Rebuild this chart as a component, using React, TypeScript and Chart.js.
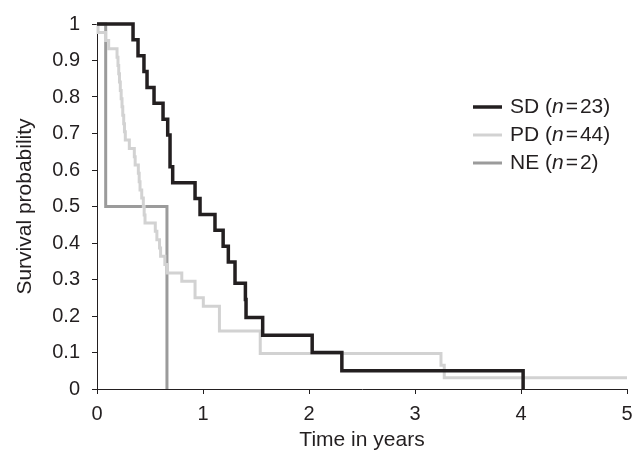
import React, { useEffect, useRef } from "react";
import { Chart, registerables } from "chart.js";

Chart.register(...registerables);

const FONT = "'Liberation Sans', Arial, Helvetica, sans-serif";
const INK = "#231f20";

// Kaplan–Meier step points (time in years, survival after the step)
const sdTimes = [0, 0.34, 0.387, 0.443, 0.472, 0.538, 0.623, 0.667, 0.689, 0.714, 0.925, 0.972, 1.113, 1.19, 1.239, 1.302, 1.4, 1.406, 1.563, 2.03, 2.31, 4.02];
const sdValues = [1, 0.957, 0.913, 0.87, 0.826, 0.783, 0.739, 0.696, 0.609, 0.565, 0.522, 0.478, 0.435, 0.391, 0.348, 0.29, 0.245, 0.196, 0.147, 0.1, 0.05, 0];

const pdTimes = [0, 0.01, 0.08, 0.11, 0.189, 0.198, 0.205, 0.212, 0.22, 0.228, 0.236, 0.243, 0.252, 0.259, 0.267, 0.305, 0.352, 0.36, 0.39, 0.398, 0.406, 0.422, 0.437, 0.445, 0.453, 0.55, 0.565, 0.59, 0.6, 0.64, 0.66, 0.8, 0.925, 1.003, 1.155, 1.54, 3.245, 3.276, 5.0];
const pdValues = [1, 0.977, 0.955, 0.932, 0.909, 0.886, 0.864, 0.841, 0.818, 0.795, 0.773, 0.75, 0.727, 0.705, 0.682, 0.659, 0.636, 0.614, 0.591, 0.568, 0.545, 0.523, 0.5, 0.477, 0.455, 0.432, 0.409, 0.386, 0.364, 0.341, 0.318, 0.295, 0.25, 0.227, 0.159, 0.097, 0.065, 0.031, 0.031];

const neTimes = [0, 0.082, 0.66];
const neValues = [1, 0.5, 0];

const seriesNames = ["SD", "PD", "NE"];
const seriesN = ["23", "44", "2"];
const seriesColors = [INK, "#d2d2d2", "#9b9b9b"];
const seriesWidths = [3.5, 3, 3];

const xTicks = [0, 1, 2, 3, 4, 5];
const yTicks = [0, 0.1, 0.2, 0.3, 0.4, 0.5, 0.6, 0.7, 0.8, 0.9, 1];

const toPoints = (t: number[], v: number[]) => t.map((x, i) => ({ x, y: v[i] }));

const legendPlugin = {
  id: "kmLegend",
  afterDraw(chart: any) {
    const ctx = chart.ctx as CanvasRenderingContext2D;
    const x0 = 473;
    const x1 = 502;
    const tx = 510;
    const top = 107;
    const gap = 28;
    ctx.save();
    seriesNames.forEach((name, i) => {
      const y = top + i * gap;
      ctx.strokeStyle = seriesColors[i];
      ctx.lineWidth = seriesWidths[i];
      ctx.lineCap = "butt";
      ctx.beginPath();
      ctx.moveTo(x0, y);
      ctx.lineTo(x1, y);
      ctx.stroke();
      ctx.fillStyle = INK;
      ctx.textBaseline = "middle";
      ctx.textAlign = "left";
      let x = tx;
      ctx.font = `21px ${FONT}`;
      const a = `${name} (`;
      ctx.fillText(a, x, y);
      x += ctx.measureText(a).width;
      ctx.font = `italic 21px ${FONT}`;
      ctx.fillText("n", x, y);
      x += ctx.measureText("n").width + 2;
      ctx.font = `21px ${FONT}`;
      ctx.fillText("=", x, y);
      x += ctx.measureText("=").width + 2;
      ctx.fillText(`${seriesN[i]})`, x, y);
    });
    ctx.restore();
  },
};

export default function App() {
  const ref = useRef<HTMLCanvasElement | null>(null);
  useEffect(() => {
    if (!ref.current) return;
    const grid = {
      drawOnChartArea: false,
      drawTicks: true,
      tickLength: 5,
      color: INK,
      lineWidth: 1,
    };
    const border = { display: true, color: INK, width: 1 };
    const chart = new Chart(ref.current, {
      type: "line",
      data: {
        datasets: [
          { label: "SD", data: toPoints(sdTimes, sdValues), borderColor: seriesColors[0], borderWidth: seriesWidths[0], stepped: true, pointRadius: 0, fill: false, clip: false } as any,
          { label: "PD", data: toPoints(pdTimes, pdValues), borderColor: seriesColors[1], borderWidth: seriesWidths[1], stepped: true, pointRadius: 0, fill: false, clip: false } as any,
          { label: "NE", data: toPoints(neTimes, neValues), borderColor: seriesColors[2], borderWidth: seriesWidths[2], stepped: true, pointRadius: 0, fill: false, clip: false } as any,
        ],
      },
      options: {
        animation: false,
        responsive: false,
        maintainAspectRatio: false,
        devicePixelRatio: 1,
        layout: { padding: { left: 0, top: 21, right: 17, bottom: 0 } },
        plugins: { legend: { display: false }, tooltip: { enabled: false } },
        elements: { point: { radius: 0 }, line: { tension: 0, borderJoinStyle: "miter", borderCapStyle: "butt" } },
        scales: {
          x: {
            type: "linear",
            min: 0,
            max: 5,
            afterBuildTicks: (s: any) => {
              s.ticks = xTicks.map((v) => ({ value: v }));
            },
            ticks: { font: { family: FONT, size: 20 }, color: INK, padding: 8, maxRotation: 0, minRotation: 0, autoSkip: false, callback: (v: any) => String(v) },
            grid,
            border,
            title: { display: true, text: "Time in years", color: INK, font: { family: FONT, size: 21, lineHeight: 1.1 }, padding: { top: 0, bottom: 0 } },
            afterFit: (s: any) => {
              s.height = 63;
            },
          },
          y: {
            type: "linear",
            min: 0,
            max: 1,
            afterBuildTicks: (s: any) => {
              s.ticks = yTicks.map((v) => ({ value: v }));
            },
            ticks: { font: { family: FONT, size: 20 }, color: INK, padding: 12, autoSkip: false, callback: (v: any) => String(Number(Number(v).toFixed(1))) },
            grid,
            border,
            title: { display: true, text: "Survival probability", color: INK, font: { family: FONT, size: 21, lineHeight: 1.1 }, padding: { top: 14, bottom: 0 } },
            afterFit: (s: any) => {
              s.width = 97;
            },
          },
        },
      } as any,
      plugins: [legendPlugin],
    });
    return () => chart.destroy();
  }, []);
  return (
    <div style={{ position: "absolute", left: 0, top: 0, width: 644, height: 452, background: "#fff" }}>
      <canvas ref={ref} width={644} height={452} style={{ width: 644, height: 452, display: "block" }} />
    </div>
  );
}
